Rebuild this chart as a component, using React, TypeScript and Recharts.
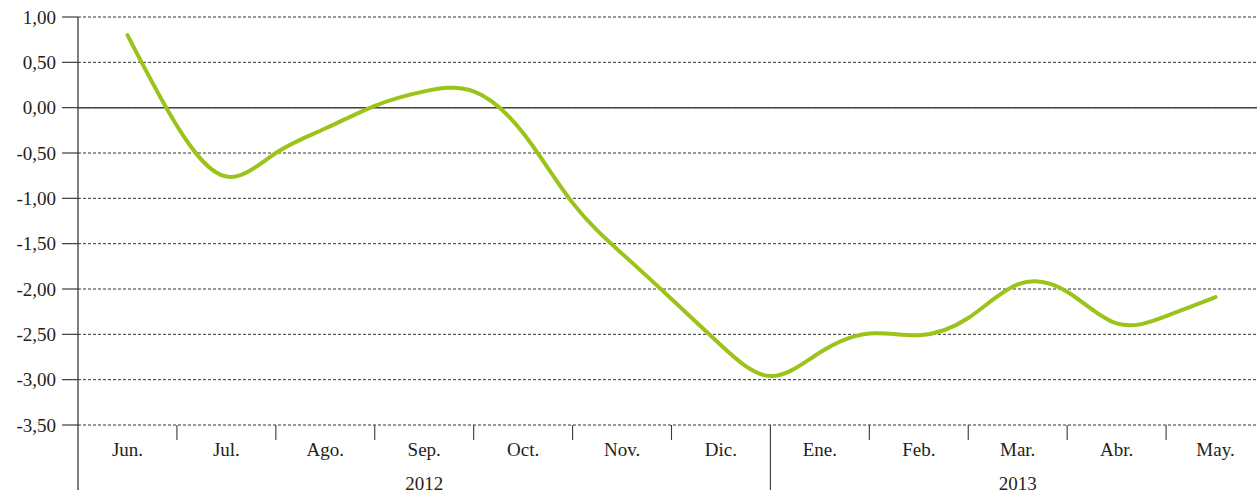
import React from "react";
import { LineChart, Line, XAxis, YAxis, CartesianGrid, ReferenceLine } from "recharts";

// Month categories (index 0..11)
const months = ["Jun.", "Jul.", "Ago.", "Sep.", "Oct.", "Nov.", "Dic.", "Ene.", "Feb.", "Mar.", "Abr.", "May."];
// Year groups: label, first and last month index
const years = ["2012", "2013"];
const yearFirst = [0, 7];
const yearLast = [6, 11];

// Curve at every half month (month index position)
const positions = [0, 0.5, 1, 1.5, 2, 2.5, 3, 3.5, 4, 4.5, 5, 5.5, 6, 6.5, 7, 7.5, 8, 8.5, 9, 9.5, 10, 10.5, 11];
const values = [0.8, -0.2, -0.76, -0.5, -0.23, 0.02, 0.18, 0.18, -0.28, -1.05, -1.61, -2.11, -2.62, -2.96, -2.7, -2.49, -2.51, -2.32, -1.95, -2.03, -2.38, -2.3, -2.09];

const yTicks = [1, 0.5, 0, -0.5, -1, -1.5, -2, -2.5, -3, -3.5];

const data = positions.map((p, i) => ({ pos: p, value: values[i] }));
const monthTicks = months.map((_, i) => i);
const yearCenters = years.map((_, i) => (yearFirst[i] + yearLast[i]) / 2);

const CHART_W = 1280;
const CHART_H = 493;
const MARGIN = { top: 17, right: 15, left: 0, bottom: 0 };
const Y_AXIS_W = 78;
const PLOT_W = CHART_W - MARGIN.left - MARGIN.right - Y_AXIS_W;
const BAND = PLOT_W / months.length;
const X_DOMAIN: [number, number] = [-0.5, months.length - 0.5];

const FONT = "'Liberation Serif', 'Times New Roman', serif";
const TEXT = "#231f20";
const AXIS = "#3a3a3a";

const fmt = (v: number) => v.toFixed(2).replace(".", ",");

const MonthTick = (props: any) => {
  const { x, y, payload } = props;
  const i = payload.value as number;
  const isYearEnd = yearLast.slice(0, -1).includes(i);
  return (
    <g>
      <text x={x} y={y + 31} textAnchor="middle" fontFamily={FONT} fontSize={19} fill={TEXT}>
        {months[i]}
      </text>
      {i === 0 && (
        <line x1={x - BAND / 2} x2={x - BAND / 2} y1={y} y2={y + 65} stroke={AXIS} strokeWidth={1.3} />
      )}
      {i < months.length - 1 && (
        <line x1={x + BAND / 2} x2={x + BAND / 2} y1={y} y2={y + (isYearEnd ? 65 : 15)} stroke={AXIS} strokeWidth={1.1} />
      )}
    </g>
  );
};

const YearTick = (props: any) => {
  const { x, y, payload } = props;
  const idx = yearCenters.indexOf(payload.value);
  return (
    <text x={x} y={y + 29} textAnchor="middle" fontFamily={FONT} fontSize={19} fill={TEXT}>
      {years[idx]}
    </text>
  );
};

export default function App() {
  return (
    <div style={{ position: "absolute", left: 0, top: 0, width: 1257, height: 493, overflow: "hidden", background: "#fff" }}>
      <LineChart width={CHART_W} height={CHART_H} data={data} margin={MARGIN}>
        <CartesianGrid horizontal vertical={false} stroke="#333" strokeDasharray="3 2" strokeWidth={1} />
        <XAxis
          xAxisId="m"
          dataKey="pos"
          type="number"
          domain={X_DOMAIN}
          ticks={monthTicks}
          interval={0}
          allowDataOverflow
          axisLine={false}
          tickLine={false}
          tickSize={0}
          tickMargin={0}
          height={36}
          tick={<MonthTick />}
        />
        <XAxis
          xAxisId="y"
          dataKey="pos"
          type="number"
          domain={X_DOMAIN}
          ticks={yearCenters}
          interval={0}
          allowDataOverflow
          axisLine={false}
          tickLine={false}
          tickSize={0}
          tickMargin={0}
          height={32}
          tick={<YearTick />}
        />
        <YAxis
          width={Y_AXIS_W}
          domain={[-3.5, 1]}
          ticks={yTicks}
          interval={0}
          allowDataOverflow
          tickFormatter={fmt}
          tickSize={16}
          tickMargin={6}
          axisLine={{ stroke: AXIS, strokeWidth: 1.3 }}
          tickLine={{ stroke: AXIS, strokeWidth: 1.2 }}
          tick={{ fontFamily: FONT, fontSize: 19, fill: TEXT }}
        />
        <ReferenceLine xAxisId="m" y={0} stroke="#444" strokeWidth={1.5} />
        <Line
          xAxisId="m"
          type="natural"
          dataKey="value"
          stroke="#9bc31a"
          strokeWidth={4}
          strokeLinecap="round"
          dot={false}
          activeDot={false}
          isAnimationActive={false}
        />
      </LineChart>
    </div>
  );
}
